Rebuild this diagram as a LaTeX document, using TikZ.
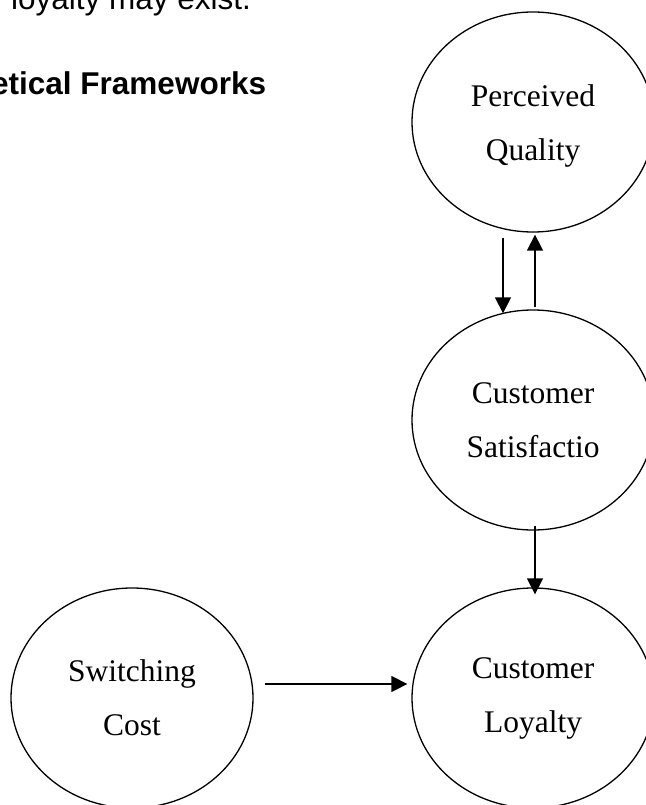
\documentclass[tikz,border=0pt]{standalone}
\usepackage{fontspec}
\setmainfont{Liberation Serif}
\newfontfamily\arialfont{Liberation Sans}
\usetikzlibrary{shapes.geometric,arrows.meta}
\begin{document}
\begin{tikzpicture}[x=1pt,y=-1pt,
  concept/.style={ellipse,draw,line width=1.3pt,minimum width=242pt,minimum height=220pt,
    inner sep=0pt,align=center,font=\fontsize{31.5}{54}\selectfont},
  link/.style={line width=1.4pt,-{Triangle[length=16pt,width=16pt]}},
  bodytext/.style={anchor=base west,inner sep=0pt,font=\arialfont\fontsize{31.5}{36}\selectfont},
  headtext/.style={anchor=base west,inner sep=0pt,font=\arialfont\bfseries\fontsize{31.5}{36}\selectfont}]
\useasboundingbox (0,0) rectangle (645,805);
\node[bodytext] (t1) at (11,10) {loyalty may exist.};
\node[headtext] (t2) at (-9,95) {etical Frameworks};
\node[concept] (pq) at (533,122) {\rule{0pt}{30pt}Perceived\\Quality};
\node[concept] (cs) at (533,420) {Customer\\Satisfactio};
\node[concept] (sc) at (132,698) {Switching\\Cost};
\node[concept] (cl) at (533,698) {Customer\\Loyalty};
\draw[link] ([xshift=-30pt,yshift=-5pt]pq.south) -- ([xshift=-30pt,yshift=-4pt]cs.north);
\draw[link] ([xshift=2pt,yshift=2pt]cs.north) -- ([xshift=2pt,yshift=-2pt]pq.south);
\draw[link] ([xshift=2pt,yshift=5pt]cs.south) -- ([xshift=2pt,yshift=-7pt]cl.north);
\draw[link] ([xshift=11pt,yshift=14pt]sc.east) -- ([xshift=-4pt,yshift=14pt]cl.west);
\end{tikzpicture}
\end{document}
